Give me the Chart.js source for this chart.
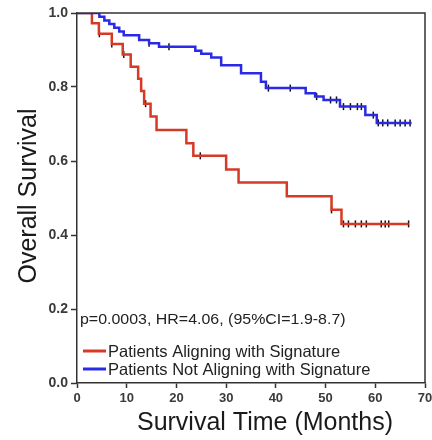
<!DOCTYPE html>
<html><head><meta charset="utf-8">
<script src="https://cdn.jsdelivr.net/npm/chart.js@4/dist/chart.umd.min.js"></script>
<style>html,body{margin:0;padding:0;background:#fff}#wrap{width:432px;height:440px}</style>
</head><body><div id="wrap"><canvas id="c" width="432" height="440"></canvas></div>
<script>
// ---- data ----
const seriesLabels = ['Patients Aligning with Signature', 'Patients Not Aligning with Signature'];
const statsText = 'p=0.0003, HR=4.06, (95%CI=1.9-8.7)';
const xTitle = 'Survival Time (Months)';
const yTitle = 'Overall Survival';

const redTimes = [0, 3.0, 4.4, 7.0, 9.2, 10.8, 12.3, 12.9, 13.5, 14.8, 16.0, 22.0, 23.4, 30.0, 32.5, 42.2, 51.2, 53.2, 66.7];
const redSurv  = [1.0, 0.972, 0.944, 0.916, 0.888, 0.855, 0.822, 0.789, 0.755, 0.720, 0.684, 0.648, 0.614, 0.577, 0.542, 0.505, 0.468, 0.430, 0.430];

const blueTimes = [0, 4.5, 5.5, 6.5, 7.5, 8.5, 9.4, 12.5, 14.5, 16.5, 23.8, 25.0, 27.0, 29.0, 33.0, 37.0, 38.0, 46.0, 47.9, 49.6, 52.9, 58.0, 60.3, 67.3];
const blueSurv  = [1.0, 0.99, 0.98, 0.97, 0.96, 0.95, 0.94, 0.927, 0.918, 0.909, 0.898, 0.89, 0.88, 0.859, 0.837, 0.814, 0.797, 0.783, 0.774, 0.765, 0.747, 0.724, 0.703, 0.703];

const redCensorTimes  = [4.5, 7.0, 9.4, 13.8, 24.8, 51.2, 53.6, 54.6, 56.0, 57.2, 58.2, 61.2, 62.0, 62.7, 66.7];
const blueCensorTimes = [14.5, 18.5, 38.5, 42.9, 48.2, 51.0, 52.2, 53.6, 55.0, 56.4, 57.2, 59.6, 60.6, 61.5, 62.5, 64.0, 65.0, 66.0, 67.0];

const xTickValues = [0, 10, 20, 30, 40, 50, 60, 70];
const xTickLabels = ['0', '10', '20', '30', '40', '50', '60', '70'];
const yTickValues = [0, 0.2, 0.4, 0.6, 0.8, 1.0];
const yTickLabels = ['0.0', '0.2', '0.4', '0.6', '0.8', '1.0'];

// ---- styles ----
const RED = '#d63a26';
const BLUE = '#2a2ae6';
const FONT = '"Liberation Sans", Arial, Helvetica, sans-serif';
const AXIS = '#333333';

function pts(t, s) { return t.map((v, i) => ({ x: v, y: s[i] })); }
function survAt(t, s, x) {
  let v = s[0];
  for (let i = 0; i < t.length; i++) { if (t[i] <= x) v = s[i]; }
  return v;
}
function censorPts(ct, t, s) { return ct.map(x => ({ x: x, y: survAt(t, s, x) })); }

const framePlugin = {
  id: 'frame',
  afterDraw(chart) {
    const { ctx, chartArea: a } = chart;
    ctx.save();
    ctx.strokeStyle = AXIS;
    ctx.lineWidth = 1.5;
    ctx.beginPath();
    ctx.moveTo(a.left, a.top);
    ctx.lineTo(a.right, a.top);
    ctx.lineTo(a.right, a.bottom);
    ctx.stroke();

    // stats text
    ctx.fillStyle = '#222';
    ctx.textBaseline = 'middle';
    ctx.textAlign = 'left';
    ctx.save();
    ctx.translate(a.left + 3, 320);
    ctx.scale(1.1, 1);
    ctx.font = '14.5px ' + FONT;
    ctx.fillText(statsText, 0, 0);
    ctx.restore();

    // legend
    const cols = [RED, BLUE];
    const ys = [351, 369];
    ctx.font = '16.5px ' + FONT;
    for (let i = 0; i < 2; i++) {
      ctx.strokeStyle = cols[i];
      ctx.lineWidth = 3;
      ctx.beginPath();
      ctx.moveTo(a.left + 6, ys[i]);
      ctx.lineTo(a.left + 29, ys[i]);
      ctx.stroke();
      ctx.fillStyle = '#222';
      ctx.fillText(seriesLabels[i], a.left + 31, ys[i] + 1);
    }

    // axis titles
    ctx.fillStyle = '#1a1a1a';
    ctx.font = '25px ' + FONT;
    ctx.textAlign = 'center';
    ctx.textBaseline = 'alphabetic';
    ctx.fillText(xTitle, 265, 430);
    ctx.save();
    ctx.translate(36, 196);
    ctx.rotate(-Math.PI / 2);
    ctx.fillText(yTitle, 0, 0);
    ctx.restore();
    ctx.restore();
  }
};

new Chart(document.getElementById('c'), {
  type: 'line',
  data: {
    datasets: [
      { label: seriesLabels[1], data: pts(blueTimes, blueSurv), stepped: true, borderColor: BLUE, borderWidth: 2.5, pointRadius: 0, fill: false },
      { label: seriesLabels[0], data: pts(redTimes, redSurv), stepped: true, borderColor: RED, borderWidth: 2.5, pointRadius: 0, fill: false },
      { label: 'c1', data: censorPts(blueCensorTimes, blueTimes, blueSurv), showLine: false, pointStyle: 'line', rotation: 90, pointRadius: 3.5, pointBorderWidth: 1.5, pointBorderColor: '#111', pointBackgroundColor: '#111' },
      { label: 'c2', data: censorPts(redCensorTimes, redTimes, redSurv), showLine: false, pointStyle: 'line', rotation: 90, pointRadius: 3.5, pointBorderWidth: 1.5, pointBorderColor: '#111', pointBackgroundColor: '#111' }
    ]
  },
  options: {
    responsive: false,
    animation: false,
    devicePixelRatio: 1,
    layout: { padding: { top: 13, right: 7, bottom: 0, left: 0 } },
    plugins: { legend: { display: false }, tooltip: { enabled: false } },
    scales: {
      x: {
        type: 'linear', min: 0, max: 70,
        afterBuildTicks: s => { s.ticks = xTickValues.map(v => ({ value: v })); },
        afterFit: s => { s.height = 57; s.paddingLeft = 0; s.paddingRight = 0; },
        ticks: { callback: (v, i) => xTickLabels[i], autoSkip: false, maxRotation: 0, color: '#3a3a3a', padding: 3, font: { family: FONT, size: 13, weight: 'bold' } },
        grid: { drawOnChartArea: false, tickLength: 5, color: AXIS, tickWidth: 1.5 },
        border: { color: AXIS, width: 1.5 }
      },
      y: {
        type: 'linear', min: 0, max: 1,
        afterBuildTicks: s => { s.ticks = yTickValues.map(v => ({ value: v })); },
        afterFit: s => { s.width = 77; },
        ticks: { callback: (v, i) => yTickLabels[i], autoSkip: false, color: '#3a3a3a', padding: 3, font: { family: FONT, size: 14, weight: 'bold' } },
        grid: { drawOnChartArea: false, tickLength: 6, color: AXIS, tickWidth: 1.5 },
        border: { color: AXIS, width: 1.5 }
      }
    }
  },
  plugins: [framePlugin]
});
</script>
</body></html>
